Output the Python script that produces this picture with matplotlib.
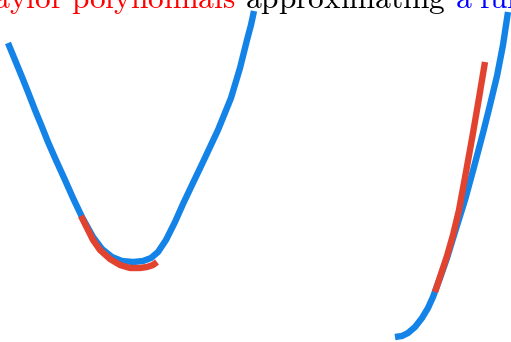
import matplotlib.pyplot as plt

plt.rcParams["mathtext.fontset"] = "cm"

# curve samples (pixel coords, y down)
left_fx = [8, 15, 22, 28, 35, 42, 48, 55, 65, 73, 82, 93, 102, 112, 122, 133, 143, 151,
           158, 166, 175, 183, 192, 203, 218, 231, 240, 247, 251, 254]
left_fy = [43, 60, 77, 92, 110, 127, 142, 158, 180, 198, 217, 237, 249, 257, 261, 262, 261, 258,
           252, 240, 222, 204, 185, 162, 130, 98, 68, 40, 25, 11]
left_px = [81, 87, 93, 100, 110, 120, 130, 140, 147, 153, 157]
left_py = [216, 228, 240, 250, 259, 265, 268, 268, 267, 265, 262]

right_fx = [395, 402, 408, 415, 422, 428, 433, 440, 447, 455, 465, 474, 483, 490, 497, 503, 508]
right_fy = [337, 336, 333, 327, 318, 308, 297, 278, 258, 232, 200, 167, 133, 105, 76, 45, 12]
right_px = [435, 441, 447, 453, 459, 466, 473, 479, 485]
right_py = [292, 274, 256, 235, 210, 172, 133, 98, 62]

BLUE, RED = "#1483E8", "#E2432F"
LW = 4.6

fig = plt.figure(figsize=(5.11, 3.42), dpi=100)
ax = fig.add_axes([0, 0, 1, 1])
ax.set_xlim(0, 511)
ax.set_ylim(342, 0)
ax.axis("off")

style = dict(lw=LW, solid_capstyle="butt", solid_joinstyle="round")
ax.plot(left_fx, left_fy, color=BLUE, **style)
ax.plot(right_fx, right_fy, color=BLUE, **style)
ax.plot(left_px, left_py, color=RED, **style)
ax.plot(right_px, right_py, color=RED, **style)

# title, cut off at the top of the frame
fs = 22.6
ax.text(236, 8, r"$\mathrm{Taylor\ polynomials}$", color="red", fontsize=fs,
        ha="right", va="baseline", clip_on=False)
ax.text(245, 8, r"$\mathrm{approximating}$", color="black", fontsize=fs,
        ha="left", va="baseline", clip_on=False)
ax.text(455, 8, r"$\mathrm{a\ function}$", color="blue", fontsize=fs,
        ha="left", va="baseline", clip_on=False)

fig.savefig("out.png", dpi=100)
